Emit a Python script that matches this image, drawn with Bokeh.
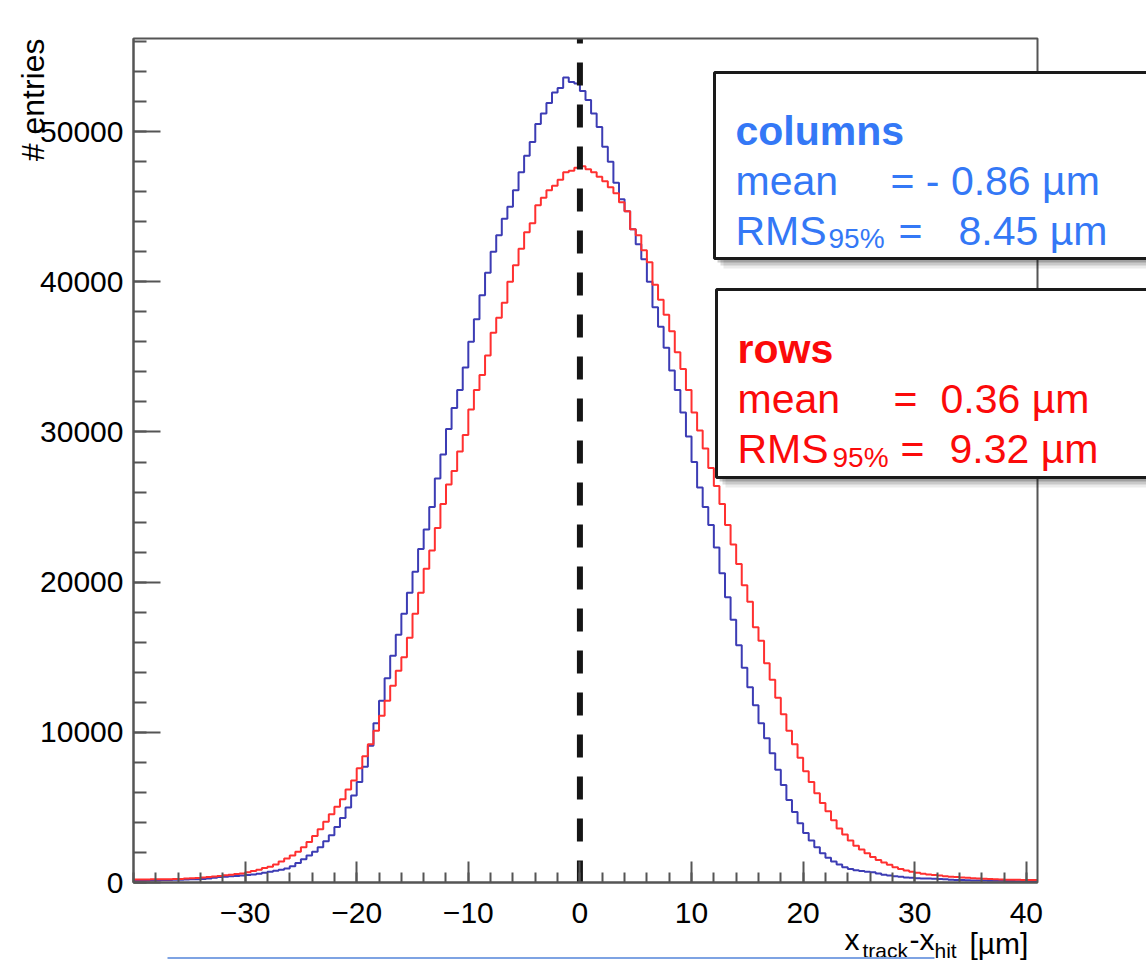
import math
from bokeh.plotting import figure
from bokeh.models import Range1d, FixedTicker, Label, BoxAnnotation
from bokeh.embed import file_html
from bokeh.resources import INLINE

# ---------------- data ----------------
bin_lo, bin_w = -40.0, 0.5

columns_counts = [
    120, 130, 140, 150, 150, 160, 170, 180, 190, 200,
    210, 220, 240, 270, 320, 360, 380, 410, 440, 470,
    500, 530, 580, 650, 720, 780, 850, 930, 1080, 1300,
    1550, 1800, 2050, 2350, 2750, 3150, 3700, 4300, 5000, 5800,
    6700, 7700, 9100, 10600, 12100, 13600, 15100, 16500, 17900, 19300,
    20700, 22200, 23500, 25000, 26900, 28500, 30200, 31600, 32800, 34300,
    36000, 37500, 39100, 40600, 42000, 43100, 44200, 45000, 46100, 47300,
    48400, 49300, 50500, 51200, 51900, 52600, 52900, 53600, 53300, 53200,
    52700, 52100, 51200, 50300, 49000, 48000, 46600, 45500, 44700, 43500,
    42500, 41500, 40000, 38300, 37000, 35600, 34100, 32800, 31300, 29700,
    28000, 26300, 25000, 23800, 22300, 20600, 19000, 17500, 15800, 14300,
    13000, 11800, 10600, 9600, 8600, 7500, 6500, 5500, 4700, 3950,
    3300, 2800, 2350, 1950, 1650, 1400, 1200, 1020, 900, 820,
    770, 720, 680, 600, 520, 460, 410, 380, 340, 310,
    290, 270, 260, 250, 230, 210, 190, 170, 160, 150,
    140, 130, 130, 120, 110, 110, 100, 100, 90, 90,
    80, 80,
]

rows_counts = [
    200, 200, 200, 210, 210, 220, 220, 230, 240, 260,
    280, 300, 330, 360, 400, 440, 480, 520, 560, 600,
    680, 760, 850, 960, 1050, 1200, 1400, 1600, 1800, 2050,
    2350, 2700, 3100, 3550, 4050, 4550, 5050, 5550, 6200, 6800,
    7600, 8400, 9200, 10100, 11100, 12100, 13100, 14100, 15000, 16300,
    17900, 19300, 20900, 22100, 23600, 25200, 26500, 27400, 28700, 29800,
    31500, 32800, 33800, 35100, 36600, 37600, 38600, 40000, 41100, 42200,
    43300, 43900, 45100, 45600, 46100, 46400, 46800, 47300, 47400, 47600,
    47700, 47500, 47300, 47000, 46700, 46300, 45900, 45300, 44700, 43500,
    43100, 42100, 41300, 39800, 38800, 37800, 36700, 35300, 34200, 32800,
    31300, 30100, 28900, 27600, 26400, 25200, 23800, 22500, 21200, 19800,
    18700, 17000, 16100, 14600, 13500, 12300, 11200, 10100, 9200, 8300,
    7400, 6700, 5950, 5300, 4750, 4150, 3600, 3200, 2800, 2450,
    2200, 1950, 1700, 1500, 1330, 1180, 1020, 900, 800, 720,
    650, 590, 540, 500, 460, 420, 390, 360, 340, 320,
    290, 270, 250, 230, 210, 200, 190, 180, 180, 170,
    170, 160,
]

x_tick_values = [-30, -20, -10, 0, 10, 20, 30, 40]
x_tick_labels = ["\u221230", "\u221220", "\u221210", "0", "10", "20", "30", "40"]
x_minor_values = list(range(-40, 41, 2))
y_tick_values = [0, 10000, 20000, 30000, 40000, 50000]
y_tick_labels = ["0", "10000", "20000", "30000", "40000", "50000"]
y_minor_values = list(range(0, 56001, 2000))

columns_stats = ["columns", "mean", "= - 0.86 \u00b5m", "RMS", "95%", "=", "8.45 \u00b5m"]
rows_stats = ["rows", "mean", "=", "0.36 \u00b5m", "RMS", "95%", "=", "9.32 \u00b5m"]

zero_line_x = 0.0
X_LO, X_HI = -40.0, 41.0
Y_LO, Y_HI = 0.0, 56200.0

# ---------------- layout (page pixels) ----------------
W, H = 1146, 961
BOX_L, BOX_R, BOX_T, BOX_B = 133, 1037, 38, 882   # histogram box on the page

def px2x(px):
    return X_LO + (px - BOX_L) / (BOX_R - BOX_L) * (X_HI - X_LO)

def py2y(py):
    return Y_LO + (BOX_B - py) / (BOX_B - BOX_T) * (Y_HI - Y_LO)

FONT = "Liberation Sans"
BLUE_HIST = "#3c3cb4"
RED_HIST = "#ff3030"
BLUE_TXT = "#3478f6"
RED_TXT = "#fb0a0a"
AX = "#555555"

p = figure(width=W, height=H, output_backend="svg", toolbar_location=None,
           x_range=Range1d(px2x(0), px2x(W)), y_range=Range1d(py2y(H), py2y(0)),
           min_border=0)
p.xgrid.visible = False
p.ygrid.visible = False
p.background_fill_color = "white"
p.border_fill_color = "white"
p.outline_line_color = None

# axes fixed on the histogram box
p.xaxis.fixed_location = Y_LO
p.xaxis.bounds = (X_LO, X_HI)
p.yaxis.fixed_location = X_LO
p.yaxis.bounds = (Y_LO, Y_HI)
p.xaxis.ticker = FixedTicker(ticks=x_tick_values, minor_ticks=x_minor_values)
p.xaxis.major_label_overrides = dict(zip(x_tick_values, x_tick_labels))
p.yaxis.ticker = FixedTicker(ticks=y_tick_values, minor_ticks=y_minor_values)
p.yaxis.major_label_overrides = dict(zip(y_tick_values, y_tick_labels))
for ax in (p.xaxis, p.yaxis):
    ax.axis_line_color = AX
    ax.axis_line_width = 2
    ax.major_tick_line_color = AX
    ax.minor_tick_line_color = AX
    ax.major_tick_line_width = 2
    ax.minor_tick_line_width = 2
    ax.major_tick_out = 0
    ax.minor_tick_out = 0
    ax.major_label_text_font = FONT
    ax.major_label_text_font_size = "30px"
    ax.major_label_text_color = "black"
p.xaxis.major_tick_in = 21
p.xaxis.minor_tick_in = 10
p.xaxis.major_label_standoff = 20
p.yaxis.major_tick_in = 27
p.yaxis.minor_tick_in = 13
p.yaxis.major_label_standoff = 10

# top / right edges of the histogram box
p.add_layout(BoxAnnotation(left=X_LO, right=X_HI, bottom=Y_LO, top=Y_HI,
                           fill_alpha=0.0, line_color=AX, line_alpha=1.0,
                           line_width=2))

# histograms
def edges_for(counts):
    return [bin_lo + i * bin_w for i in range(len(counts) + 1)]

p.step(x=edges_for(columns_counts), y=columns_counts + [columns_counts[-1]],
       mode="after", line_color=BLUE_HIST, line_width=2)
p.step(x=edges_for(rows_counts), y=rows_counts + [rows_counts[-1]],
       mode="after", line_color=RED_HIST, line_width=2)

p.segment(x0=[zero_line_x], y0=[Y_HI], x1=[zero_line_x], y1=[Y_LO],
          line_color="#151515", line_width=6, line_dash="23 19",
          line_dash_offset=18)

def lab(text, px, py, size, color="black", bold=False, align="left", angle=0.0):
    p.add_layout(Label(x=px2x(px), y=py2y(py), text=text, text_font=FONT,
                       text_font_size=size, text_color=color,
                       text_font_style="bold" if bold else "normal",
                       text_align=align, text_baseline="alphabetic",
                       angle=angle))

# axis titles
lab("# entries", 32, 38, "32px", align="right", angle=math.pi / 2)
lab("x", 844, 939, "30px")
lab("track", 862, 950, "21px")
lab("-x", 909, 939, "30px")
lab("hit", 934, 950, "21px")
lab("[\u00b5m]", 969, 943, "30px")

# stat boxes
def stat_box(l, t, b):
    for dx, dy, a in ((9, 10, 0.08), (6, 7, 0.14), (3, 4, 0.2)):
        p.add_layout(BoxAnnotation(left=px2x(l + dx), right=px2x(W + 40),
                                   top=py2y(t + dy), bottom=py2y(b + dy),
                                   fill_color="black", fill_alpha=a,
                                   line_color=None))
    p.add_layout(BoxAnnotation(left=px2x(l), right=px2x(W + 40),
                               top=py2y(t), bottom=py2y(b),
                               fill_color="white", fill_alpha=1.0,
                               line_color="#1a1a1a", line_alpha=1.0, line_width=3))

stat_box(714, 72, 258)
stat_box(716, 289, 477)

c = columns_stats
lab(c[0], 735, 130, "41px", BLUE_TXT, bold=True)
lab(c[1], 735, 180, "41px", BLUE_TXT)
lab(c[2], 890, 180, "41px", BLUE_TXT)
lab(c[3], 735, 230, "41px", BLUE_TXT)
lab(c[4], 828, 238, "28px", BLUE_TXT)
lab(c[5], 898, 230, "41px", BLUE_TXT)
lab(c[6], 958, 230, "41px", BLUE_TXT)

r = rows_stats
lab(r[0], 737, 348, "41px", RED_TXT, bold=True)
lab(r[1], 737, 398, "41px", RED_TXT)
lab(r[2], 893, 398, "41px", RED_TXT)
lab(r[3], 940, 398, "41px", RED_TXT)
lab(r[4], 737, 448, "41px", RED_TXT)
lab(r[5], 832, 457, "28px", RED_TXT)
lab(r[6], 900, 448, "41px", RED_TXT)
lab(r[7], 949, 448, "41px", RED_TXT)

# thin blue rule at page bottom
p.add_layout(BoxAnnotation(left=px2x(167), right=px2x(934),
                           top=py2y(956.5), bottom=py2y(958.5),
                           fill_color="#7ea3e3", fill_alpha=1.0, line_color=None))

open("out.html", "w").write(file_html(p, INLINE))
